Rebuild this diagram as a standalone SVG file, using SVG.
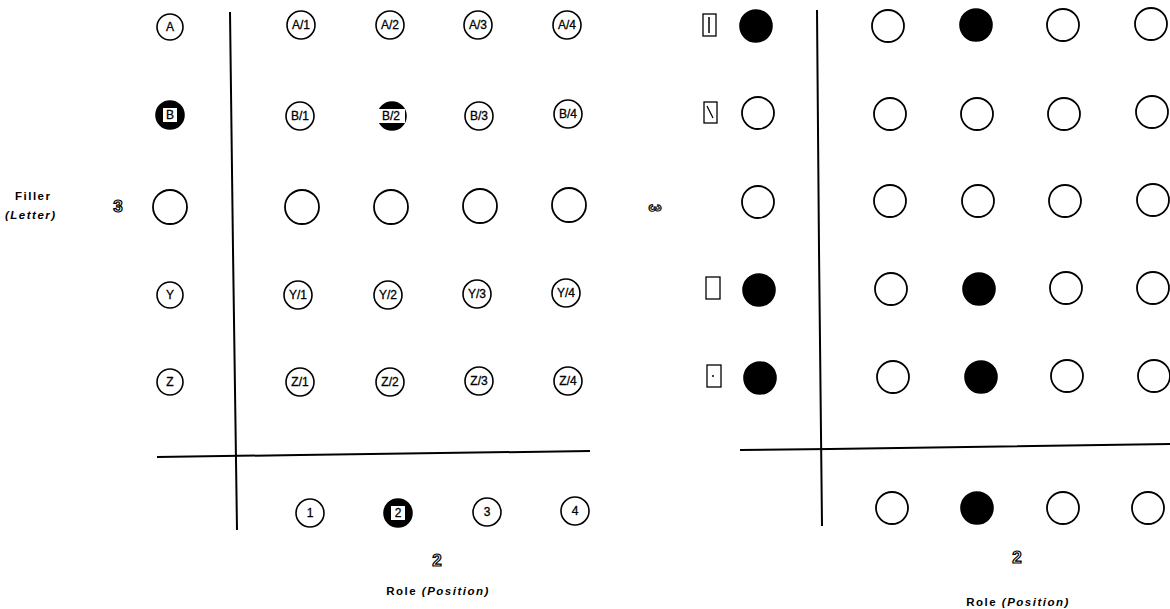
<svg xmlns="http://www.w3.org/2000/svg" width="1170" height="609" viewBox="0 0 1170 609">
<style>
.c{fill:#fff;stroke:#000;stroke-width:1.6}
.e{fill:#fff;stroke:#000;stroke-width:1.8}
.f{fill:#000;stroke:#000;stroke-width:1.6}
.t{font-family:"Liberation Sans",Arial,sans-serif;font-size:12px;text-anchor:middle;dominant-baseline:central;fill:#000;stroke:#000;stroke-width:0.3}
.lab{font-family:"Liberation Sans",Arial,sans-serif;font-size:11.5px;font-weight:bold;letter-spacing:1.5px;fill:#000}
.sym{font-family:"Liberation Sans",Arial,sans-serif;font-size:17px;font-weight:bold;fill:#fff;stroke:#000;stroke-width:1.2;text-anchor:middle;dominant-baseline:central}
.ln{fill:none;stroke:#000;stroke-width:2}
.bx{fill:#fff;stroke:#000;stroke-width:1.3}
</style>
<g id="connectors">
<path class="ln" d="M230,12 L233,250 L237,530"/>
<path class="ln" d="M157,457 L300,455 L590,451"/>
<path class="ln" d="M817,10 L819,250 L822,526"/>
<path class="ln" d="M740,450 L830,449 L1170,444"/>
</g>
<g id="left-labels">
<text class="lab" x="15" y="200">Filler</text>
<text class="lab" x="5" y="219" font-style="italic">(Letter)</text>
<text class="sym" x="118" y="206">3</text>
<text class="sym" x="437" y="560">2</text>
<text class="lab" x="438" y="595" text-anchor="middle">Role <tspan font-style="italic">(Position)</tspan></text>
</g>
<g id="left-fillers">
<g id="fA"><circle class="c" cx="170" cy="27" r="13"/><text class="t" x="170" y="27">A</text></g>
<g id="fB"><circle class="f" cx="170" cy="115" r="14"/><rect x="163" y="108" width="14" height="14" fill="#fff"/><text class="t" x="170" y="115">B</text></g>
<g id="fX"><circle class="e" cx="170" cy="207" r="17"/></g>
<g id="fY"><circle class="c" cx="170" cy="295" r="13"/><text class="t" x="170" y="295">Y</text></g>
<g id="fZ"><circle class="c" cx="170" cy="382" r="13"/><text class="t" x="170" y="382">Z</text></g>
</g>
<g id="left-grid">
<g id="A1"><circle class="c" cx="301" cy="25" r="14"/><text class="t" x="301" y="25">A/1</text></g>
<g id="A2"><circle class="c" cx="390" cy="25" r="14"/><text class="t" x="390" y="25">A/2</text></g>
<g id="A3"><circle class="c" cx="478" cy="25" r="14"/><text class="t" x="478" y="25">A/3</text></g>
<g id="A4"><circle class="c" cx="567" cy="25" r="14"/><text class="t" x="567" y="25">A/4</text></g>
<g id="B1"><circle class="c" cx="300" cy="116" r="14"/><text class="t" x="300" y="116">B/1</text></g>
<g id="B2"><circle class="f" cx="392" cy="116" r="14"/><rect x="376" y="109" width="29" height="14" fill="#fff"/><text class="t" x="391" y="116">B/2</text></g>
<g id="B3"><circle class="c" cx="479" cy="116" r="14"/><text class="t" x="479" y="116">B/3</text></g>
<g id="B4"><circle class="c" cx="568" cy="114" r="14"/><text class="t" x="568" y="114">B/4</text></g>
<g id="X1"><circle class="e" cx="302" cy="207" r="17"/></g>
<g id="X2"><circle class="e" cx="391" cy="207" r="17"/></g>
<g id="X3"><circle class="e" cx="480" cy="206" r="17"/></g>
<g id="X4"><circle class="e" cx="569" cy="205" r="17"/></g>
<g id="Y1"><circle class="c" cx="298" cy="295" r="14"/><text class="t" x="298" y="295">Y/1</text></g>
<g id="Y2"><circle class="c" cx="388" cy="295" r="14"/><text class="t" x="388" y="295">Y/2</text></g>
<g id="Y3"><circle class="c" cx="477" cy="294" r="14"/><text class="t" x="477" y="294">Y/3</text></g>
<g id="Y4"><circle class="c" cx="566" cy="293" r="14"/><text class="t" x="566" y="293">Y/4</text></g>
<g id="Z1"><circle class="c" cx="300" cy="382" r="14"/><text class="t" x="300" y="382">Z/1</text></g>
<g id="Z2"><circle class="c" cx="390" cy="382" r="14"/><text class="t" x="390" y="382">Z/2</text></g>
<g id="Z3"><circle class="c" cx="479" cy="381" r="14"/><text class="t" x="479" y="381">Z/3</text></g>
<g id="Z4"><circle class="c" cx="568" cy="381" r="14"/><text class="t" x="568" y="381">Z/4</text></g>
</g>
<g id="left-roles">
<g id="r1"><circle class="c" cx="310" cy="513" r="14"/><text class="t" x="310" y="513">1</text></g>
<g id="r2"><circle class="f" cx="398" cy="513" r="14"/><rect x="391" y="506" width="14" height="14" fill="#fff"/><text class="t" x="398" y="513">2</text></g>
<g id="r3"><circle class="c" cx="487" cy="512" r="14"/><text class="t" x="487" y="512">3</text></g>
<g id="r4"><circle class="c" cx="575" cy="511" r="14"/><text class="t" x="575" y="511">4</text></g>
</g>
<g id="right-labels">
<text class="sym" x="0" y="0" transform="translate(655,208) rotate(90) scale(0.8,1)" font-size="14">3</text>
<text class="sym" x="1017" y="557">2</text>
<text class="lab" x="1018" y="606" text-anchor="middle">Role <tspan font-style="italic">(Position)</tspan></text>
</g>
<g id="right-fillers">
<g id="k1"><rect class="bx" x="703" y="14" width="13" height="22"/><line x1="709" y1="17" x2="709" y2="33" stroke="#000" stroke-width="1.5"/><circle class="f" cx="756" cy="26" r="16"/></g>
<g id="k2"><rect class="bx" x="704" y="102" width="13" height="21"/><line x1="707" y1="106" x2="713" y2="118" stroke="#000" stroke-width="1.3"/><circle class="e" cx="758" cy="113" r="16"/></g>
<g id="k3"><circle class="e" cx="758" cy="202" r="16"/></g>
<g id="k4"><rect class="bx" x="706" y="277" width="14" height="22"/><circle class="f" cx="759" cy="290" r="16"/></g>
<g id="k5"><rect class="bx" x="707" y="365" width="14" height="22"/><circle cx="713" cy="376" r="1" fill="#000"/><circle class="f" cx="760" cy="378" r="16"/></g>
</g>
<g id="right-grid">
<circle class="e" cx="888" cy="26" r="16"/><circle class="f" cx="976" cy="25" r="16"/><circle class="e" cx="1063" cy="25" r="16"/><circle class="e" cx="1151" cy="24" r="16"/>
<circle class="e" cx="890" cy="114" r="16"/><circle class="e" cx="977" cy="114" r="16"/><circle class="e" cx="1064" cy="114" r="16"/><circle class="e" cx="1152" cy="112" r="16"/>
<circle class="e" cx="890" cy="201" r="16"/><circle class="e" cx="978" cy="201" r="16"/><circle class="e" cx="1065" cy="201" r="16"/><circle class="e" cx="1153" cy="200" r="16"/>
<circle class="e" cx="891" cy="289" r="16"/><circle class="f" cx="979" cy="289" r="16"/><circle class="e" cx="1066" cy="288" r="16"/><circle class="e" cx="1153" cy="288" r="16"/>
<circle class="e" cx="893" cy="377" r="16"/><circle class="f" cx="981" cy="377" r="16"/><circle class="e" cx="1067" cy="376" r="16"/><circle class="e" cx="1154" cy="376" r="16"/>
</g>
<g id="right-roles">
<circle class="e" cx="892" cy="508" r="16"/><circle class="f" cx="977" cy="508" r="16"/><circle class="e" cx="1063" cy="508" r="16"/><circle class="e" cx="1148" cy="508" r="16"/>
</g>
</svg>
